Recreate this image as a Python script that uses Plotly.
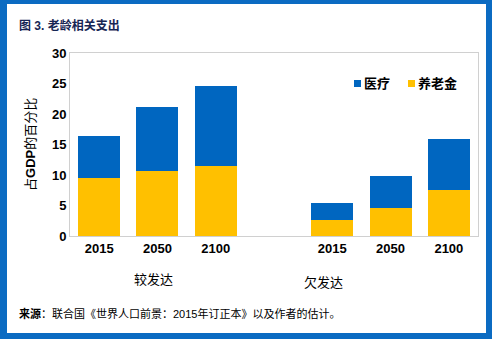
import plotly.graph_objects as go

groups = ["较发达", "欠发达"]
years = ["2015", "2050", "2100"]
series = ["养老金", "医疗"]
pension = [[9.5, 10.6, 11.5], [2.6, 4.6, 7.5]]
health = [[6.9, 10.5, 13.1], [2.8, 5.2, 8.4]]
colors = ["#ffc000", "#0066c0"]

W, H = 492, 339
L, R, T, B = 70, 14, 53, 103
pw, ph = W - L - R, H - T - B

def px(x):
    return (x - L) / pw

def py(y):
    return (H - B - y) / ph

xs, xl, pv, hv = [], [], [], []
for g in range(len(groups)):
    for i, yr in enumerate(years):
        xs.append(g * (len(years) + 1) + i)
        xl.append(yr)
        pv.append(pension[g][i])
        hv.append(health[g][i])

FONT = "Arial, 'Liberation Sans', 'Noto Sans CJK SC', sans-serif"

fig = go.Figure()
fig.add_bar(x=xs, y=pv, name=series[0], marker=dict(color=colors[0], line=dict(width=0)), width=0.72)
fig.add_bar(x=xs, y=hv, name=series[1], marker=dict(color=colors[1], line=dict(width=0)), width=0.72)

fig.update_layout(
    width=W, height=H, barmode="stack", showlegend=False,
    margin=dict(l=L, r=R, t=T, b=B, autoexpand=False),
    paper_bgcolor="white", plot_bgcolor="white",
    font=dict(family=FONT, color="black"),
    xaxis=dict(range=[-0.5, 6.5], tickvals=xs, ticktext=["<b>%s</b>" % t for t in xl], tickfont=dict(size=13),
               showline=True, linecolor="#d0d0d0", mirror=True, showgrid=False, zeroline=False, ticks=""),
    yaxis=dict(range=[0, 30], dtick=5, tickfont=dict(size=13), tickprefix="<b>", ticksuffix="</b>",
               showline=True, linecolor="#d0d0d0", mirror=True, showgrid=False, zeroline=False, ticks=""),
)

annots = [
    dict(x=px(17), y=py(25), text="<b>图 3. 老龄相关支出</b>", font=dict(size=12, color="#172554"), xanchor="left"),
    dict(x=px(17), y=py(313), text="<b>来源</b>：联合国《世界人口前景：2015年订正本》以及作者的估计。", font=dict(size=11), xanchor="left"),
    dict(x=px(132), y=py(279), text=groups[0], font=dict(size=13)),
    dict(x=px(345), y=py(282), text=groups[1], font=dict(size=13)),
    dict(x=px(362), y=py(83), text="<b>" + series[1] + "</b>", font=dict(size=13), xanchor="left"),
    dict(x=px(416), y=py(83), text="<b>" + series[0] + "</b>", font=dict(size=13), xanchor="left"),
    dict(x=px(30), y=py(145), text="占<b>GDP</b>的百分比", font=dict(size=13), textangle=-90, xanchor="center"),
]
for a in annots:
    a.update(xref="paper", yref="paper", yanchor="middle", showarrow=False)
    fig.add_annotation(**a)

# legend swatches
for (x0, c) in [(354, colors[1]), (408, colors[0])]:
    fig.add_shape(type="rect", xref="paper", yref="paper", x0=px(x0), x1=px(x0 + 7), y0=py(87), y1=py(80),
                  fillcolor=c, line=dict(width=0))

BC = "#0b6bc2"
for (x0, y0, x1, y1) in [(0, 0, 7, H), (486, 0, W, H), (0, 0, W, 4), (0, 333, W, H)]:
    fig.add_shape(type="rect", xref="paper", yref="paper", x0=px(x0), x1=px(x1), y0=py(y1), y1=py(y0),
                  fillcolor=BC, line=dict(width=0), layer="above")

fig.write_html("out.html")
